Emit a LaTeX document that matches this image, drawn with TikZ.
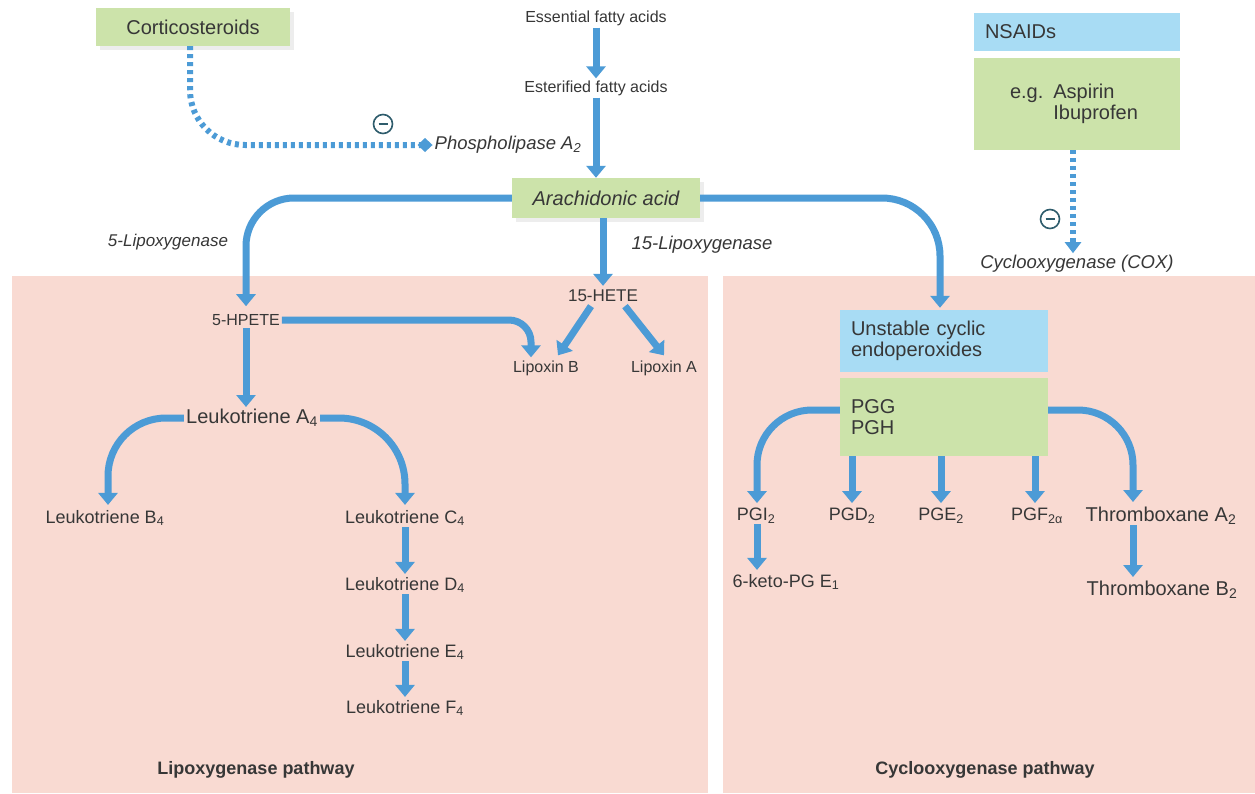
\documentclass[tikz,border=0pt]{standalone}
\usepackage{fontspec}
\setmainfont{Liberation Sans}
\usetikzlibrary{arrows.meta,shadows}
\definecolor{flowblue}{RGB}{76,155,214}
\definecolor{boxgreen}{RGB}{204,227,170}
\definecolor{boxblue}{RGB}{168,220,244}
\definecolor{panelpink}{RGB}{249,218,210}
\definecolor{txtgrey}{RGB}{55,55,55}
\definecolor{minusc}{RGB}{46,92,108}
\tikzset{
  every node/.style={text=txtgrey, inner sep=2pt},
  tA/.style={font=\fontsize{16}{19}\selectfont},
  tB/.style={font=\fontsize{17}{20}\selectfont},
  tC/.style={font=\fontsize{18}{21}\selectfont},
  tD/.style={font=\fontsize{20}{24}\selectfont},
  tE/.style={font=\fontsize{20}{24}\selectfont},
  itA/.style={font=\fontsize{17}{20}\selectfont\itshape},
  itB/.style={font=\fontsize{18.5}{22}\selectfont\itshape},
  itC/.style={font=\fontsize{20}{24}\selectfont\itshape},
  bold/.style={font=\fontsize{18}{21}\selectfont\bfseries},
  gbox/.style={fill=boxgreen, draw=none, inner sep=0pt},
  bbox/.style={fill=boxblue, draw=none, inner sep=0pt},
  softshadow/.style={drop shadow={shadow xshift=4pt,shadow yshift=-4pt,fill=black,opacity=0.07}},
  flow/.style={draw=flowblue, line width=7pt, -{Triangle[width=19pt,length=12pt]}},
  dotflow/.style={draw=flowblue, line width=6pt, dash pattern=on 4pt off 4pt, -{Kite[width=14pt,length=15pt,inset=7.5pt]}},
  dotflowB/.style={draw=flowblue, line width=6pt, dash pattern=on 4pt off 4pt, -{Triangle[width=16pt,length=11pt]}},
  minusnode/.style={circle, draw=minusc, line width=1.6pt, minimum size=19pt, inner sep=0pt},
  minusbar/.style={draw=minusc, line width=1.6pt},
}
\begin{document}
\begin{tikzpicture}[x=1pt,y=-1pt]
\useasboundingbox (0,0) rectangle (1255,793);
\fill[white] (0,0) rectangle (1255,793);
% panels
\fill[panelpink] (12,276) rectangle (708,793);
\fill[panelpink] (723,276) rectangle (1255,793);

% top nodes
\node[tA] (efa) at (596,18) {Essential fatty acids};
\node[tA] (esfa) at (596,88) {Esterified fatty acids};
\node[gbox, softshadow, minimum width=194pt, minimum height=38pt, tD] (cort) at (193,27) {Corticosteroids};
\node[itB] (pla) at (508,145) {Phospholipase A\textsubscript{2}};
\node[gbox, softshadow, minimum width=188pt, minimum height=40pt, itC] (aa) at (606,198) {Arachidonic acid};
\node[itA] (lox5) at (168,242) {5-Lipoxygenase};
\node[itB] (lox15) at (702,245) {15-Lipoxygenase};

\node[bbox, minimum height=38pt, text width=184pt, inner xsep=11pt, align=left, tD] (nsaid) at (1077,32) {NSAIDs};
\node[gbox, minimum height=92pt, text width=186pt, inner xsep=10pt, align=left, tD] (nsaidex) at (1077,104) {\hspace*{26pt}e.g. Aspirin\\[-3pt]\hspace*{26pt}\hphantom{e.g. }Ibuprofen};
\node[itB] (cox) at (1077,264) {Cyclooxygenase (COX)};

% minus signs
\node[minusnode, fill=white] (m1) at (383,124) {};
\draw[minusbar] ([xshift=-4.5pt]m1.center) -- ([xshift=4.5pt]m1.center);
\node[minusnode, fill=white] (m2) at (1050,219) {};
\draw[minusbar] ([xshift=-4.5pt]m2.center) -- ([xshift=4.5pt]m2.center);

% lipoxygenase side
\node[tB] (hete) at (603,296) {15-HETE};
\node[tA] (hpete) at (246,320) {5-HPETE};
\node[tA] (lxb) at (546,368) {Lipoxin B};
\node[tA] (lxa) at (664,368) {Lipoxin A};
\node[tD] (lta) at (252,418) {Leukotriene A\textsubscript{4}};
\node[tC] (ltb) at (105,518) {Leukotriene B\textsubscript{4}};
\node[tC] (ltc) at (405,518) {Leukotriene C\textsubscript{4}};
\node[tC] (ltd) at (405,585) {Leukotriene D\textsubscript{4}};
\node[tC] (lte) at (405,652) {Leukotriene E\textsubscript{4}};
\node[tC] (ltf) at (405,708) {Leukotriene F\textsubscript{4}};
\node[bold] (lpath) at (256,770) {Lipoxygenase pathway};

% cyclooxygenase side
\node[bbox, minimum height=62pt, text width=186pt, inner xsep=11pt, align=left, tD] (unst) at (944,341) {Unstable cyclic\\[-3pt]endoperoxides};
\node[gbox, minimum height=78pt, text width=186pt, inner xsep=11pt, align=left, tD] (pgg) at (944,417) {PGG\\[-3pt]PGH};
\node[tC] (pgi) at (756,516) {PGI\textsubscript{2}};
\node[tC] (pgd) at (852,516) {PGD\textsubscript{2}};
\node[tC] (pge) at (941,516) {PGE\textsubscript{2}};
\node[tC] (pgf) at (1037,516) {PGF\textsubscript{2α}};
\node[tE] (txa) at (1161,516) {Thromboxane A\textsubscript{2}};
\node[tC] (keto) at (786,582) {6-keto-PG E\textsubscript{1}};
\node[tE] (txb) at (1162,590) {Thromboxane B\textsubscript{2}};
\node[bold] (cpath) at (985,770) {Cyclooxygenase pathway};

\coordinate (cPGI) at (757,0);
\coordinate (cTX) at (1133,0);
\coordinate (cLXB) at (531,0);
\coordinate (cDot1) at (190,0);
\coordinate (cDot2) at (1073,0);

% connectors
\draw[flow] (efa.south) -- (esfa.north);
\draw[flow] (esfa.south) -- (esfa.south |- aa.north);
\draw[dotflow, rounded corners=55pt] (cort.south -| cDot1) |- (pla.west);
\draw[dotflowB] (nsaidex.south -| cDot2) -- (cox.north -| cDot2);

\draw[flow, rounded corners=48pt] (aa.west) -| ([yshift=6pt]hpete.north);
\draw[flow, rounded corners=58pt] (aa.east) -| ([xshift=-4pt,yshift=2pt]unst.north);
\draw[flow] (aa.south -| hete) -- ([yshift=2pt]hete.north);

\draw[flow, rounded corners=22pt] (hpete.east) -| ([yshift=1pt]lxb.north -| cLXB);
\draw[flow] ([xshift=-12pt,yshift=-2pt]hete.south) -- ([xshift=12pt,yshift=3pt]lxb.north);
\draw[flow] ([xshift=22pt,yshift=-2pt]hete.south) -- ([yshift=3pt]lxa.north);
\draw[flow] (hpete.south) -- (lta.north -| hpete);

\draw[flow, rounded corners=58pt] (lta.west) -| ([xshift=3pt,yshift=3pt]ltb.north);
\draw[flow, rounded corners=66pt] (lta.east) -| ([yshift=3pt]ltc.north);
\draw[flow] ([yshift=1pt]ltc.south) -- ([yshift=1pt]ltd.north);
\draw[flow] ([yshift=1pt]ltd.south) -- ([yshift=1pt]lte.north);
\draw[flow] ([yshift=1pt]lte.south) -- ([yshift=1pt]ltf.north);

\draw[flow, rounded corners=55pt] ([yshift=7pt]pgg.west) -| ([yshift=3pt]pgi.north -| cPGI);
\draw[flow, rounded corners=55pt] ([yshift=7pt]pgg.east) -| ([yshift=3pt]txa.north -| cTX);
\draw[flow] (pgg.south -| pgd) -- ([yshift=3pt]pgd.north);
\draw[flow] (pgg.south -| pge) -- ([yshift=3pt]pge.north);
\draw[flow] ([xshift=-2pt]pgg.south -| pgf) -- ([xshift=-2pt,yshift=3pt]pgf.north);
\draw[flow] ([yshift=2pt]pgi.south -| cPGI) -- ([yshift=2pt]keto.north -| cPGI);
\draw[flow] ([yshift=2pt]txa.south -| cTX) -- ([yshift=2pt]txb.north -| cTX);
\end{tikzpicture}
\end{document}
